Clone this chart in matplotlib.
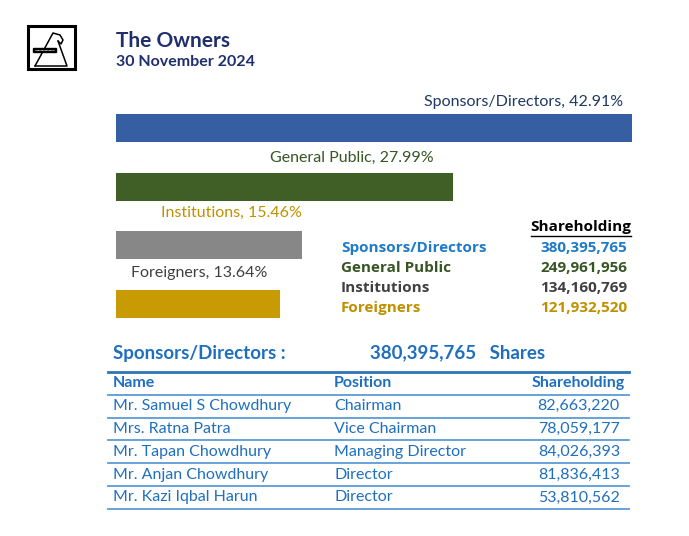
import matplotlib
matplotlib.use("Agg")
import matplotlib.pyplot as plt
from matplotlib.patches import Rectangle

plt.rcParams['font.family'] = ['Lato', 'DejaVu Sans']

# data
owner_groups = ["Sponsors/Directors", "General Public", "Institutions", "Foreigners"]
owner_pct = [42.91, 27.99, 15.46, 13.64]
owner_shares = [380395765, 249961956, 134160769, 121932520]

director_names = ["Mr. Samuel S Chowdhury", "Mrs. Ratna Patra", "Mr. Tapan Chowdhury",
                  "Mr. Anjan Chowdhury", "Mr. Kazi Iqbal Harun"]
director_positions = ["Chairman", "Vice Chairman", "Managing Director", "Director", "Director"]
director_shares = [82663220, 78059177, 84026393, 81836413, 53810562]

# styling
bar_colors = ["#365FA3", "#3F5F27", "#878787", "#C89B05"]
label_colors = ["#1F3864", "#375623", "#BF9000", "#404040"]
summary_colors = ["#1F7AC8", "#375623", "#404040", "#BF9000"]
label_offsets = [(-9, 26), (-19, 29), (0, 32), (-13, 31)]
navy = "#1F2F6E"
tblue = "#1F6FBF"

W, H = 689, 536
fig = plt.figure(figsize=(W / 100, H / 100), dpi=100)


def fx(x):
    return x / W


def fy(y):
    return 1 - y / H


def box(x0, y0, x1, y1):
    return [fx(x0), fy(y1), fx(x1) - fx(x0), fy(y0) - fy(y1)]


# logo (drawn in page pixel units)
lax = fig.add_axes(box(20, 20, 85, 75))
lax.set_xlim(20, 85)
lax.set_ylim(75, 20)
lax.axis("off")
lax.add_patch(Rectangle((28, 26), 47, 43, fill=False, lw=2.2, ec="black"))
lax.plot([35, 53, 60, 63, 61, 58], [66, 33, 35, 40, 44, 41], color="black", lw=1.1,
         solid_capstyle="round")
lax.plot([58, 67, 35], [41, 66, 66], color="black", lw=1.1)
lax.add_patch(Rectangle((33, 48), 23, 4, color="black"))
lax.plot([35, 54], [50, 50], color="white", lw=0.6, ls=(0, (1, 0.6)))

# titles
fig.text(fx(116), fy(41), "The Owners", fontsize=15, fontweight="bold",
         color=navy, va="center", ha="left")
fig.text(fx(116), fy(62), "30 November 2024", fontsize=11.5, fontweight="bold",
         color=navy, va="center", ha="left")

# bars
ax = fig.add_axes(box(116, 100, 632, 330))
ypos = list(range(len(owner_pct)))
ax.barh(ypos, owner_pct, height=0.48, color=bar_colors)
ax.set_xlim(0, owner_pct[0])
ax.set_ylim(3.443, -0.477)
ax.axis("off")
for i, (g, p) in enumerate(zip(owner_groups, owner_pct)):
    dx, dy = label_offsets[i]
    ax.annotate(f"{g}, {p:.2f}%", xy=(p, i), xytext=(dx, dy),
                textcoords="offset pixels", ha="right", va="center",
                fontsize=11.5, color=label_colors[i])

# summary (wider, tracked bold face)
sfont = ["Open Sans", "DejaVu Sans"]
fig.text(fx(631), fy(227), "Shareholding", fontsize=11, fontweight="bold", family=sfont,
         color="black", ha="right", va="center")
fig.add_artist(plt.Line2D([fx(531), fx(631)], [fy(236), fy(236)], color="black", lw=1))
for i, (g, s) in enumerate(zip(owner_groups, owner_shares)):
    y = 248 + i * 20
    fig.text(fx(341), fy(y), g, fontsize=11, fontweight="bold", family=sfont,
             color=summary_colors[i], ha="left", va="center")
    fig.text(fx(627), fy(y), f"{s:,}", fontsize=11, fontweight="bold", family=sfont,
             color=summary_colors[i], ha="right", va="center")

# directors heading
fig.text(fx(113), fy(353), "Sponsors/Directors :", fontsize=13.5, fontweight="bold",
         color=tblue, ha="left", va="center")
fig.text(fx(370), fy(353), f"{owner_shares[0]:,}   Shares", fontsize=13.5,
         fontweight="bold", color=tblue, ha="left", va="center")

# directors table
row_h = 22.8
top = 372


def hline(y, lw, c):
    fig.add_artist(plt.Line2D([fx(108), fx(629)], [fy(y), fy(y)], color=c, lw=lw))


hline(top, 2.0, "#2E75B6")
hdr_y = top + row_h / 2
fig.text(fx(113), fy(hdr_y), "Name", fontsize=11.5, fontweight="bold", color=tblue, va="center")
fig.text(fx(334), fy(hdr_y), "Position", fontsize=11.5, fontweight="bold", color=tblue, va="center")
fig.text(fx(625), fy(hdr_y), "Shareholding", fontsize=11.5, fontweight="bold", color=tblue,
         va="center", ha="right")
hline(top + row_h, 1.3, "#5B9BD5")
for i, (n, p, s) in enumerate(zip(director_names, director_positions, director_shares)):
    yc = top + row_h * (i + 1.5)
    fig.text(fx(113), fy(yc), n, fontsize=11.5, color=tblue, va="center")
    fig.text(fx(334), fy(yc), p, fontsize=11.5, color=tblue, va="center")
    fig.text(fx(620), fy(yc), f"{s:,}", fontsize=11.5, color=tblue, va="center", ha="right")
    hline(top + row_h * (i + 2), 1.3, "#5B9BD5")

fig.savefig("out.png", dpi=100)
